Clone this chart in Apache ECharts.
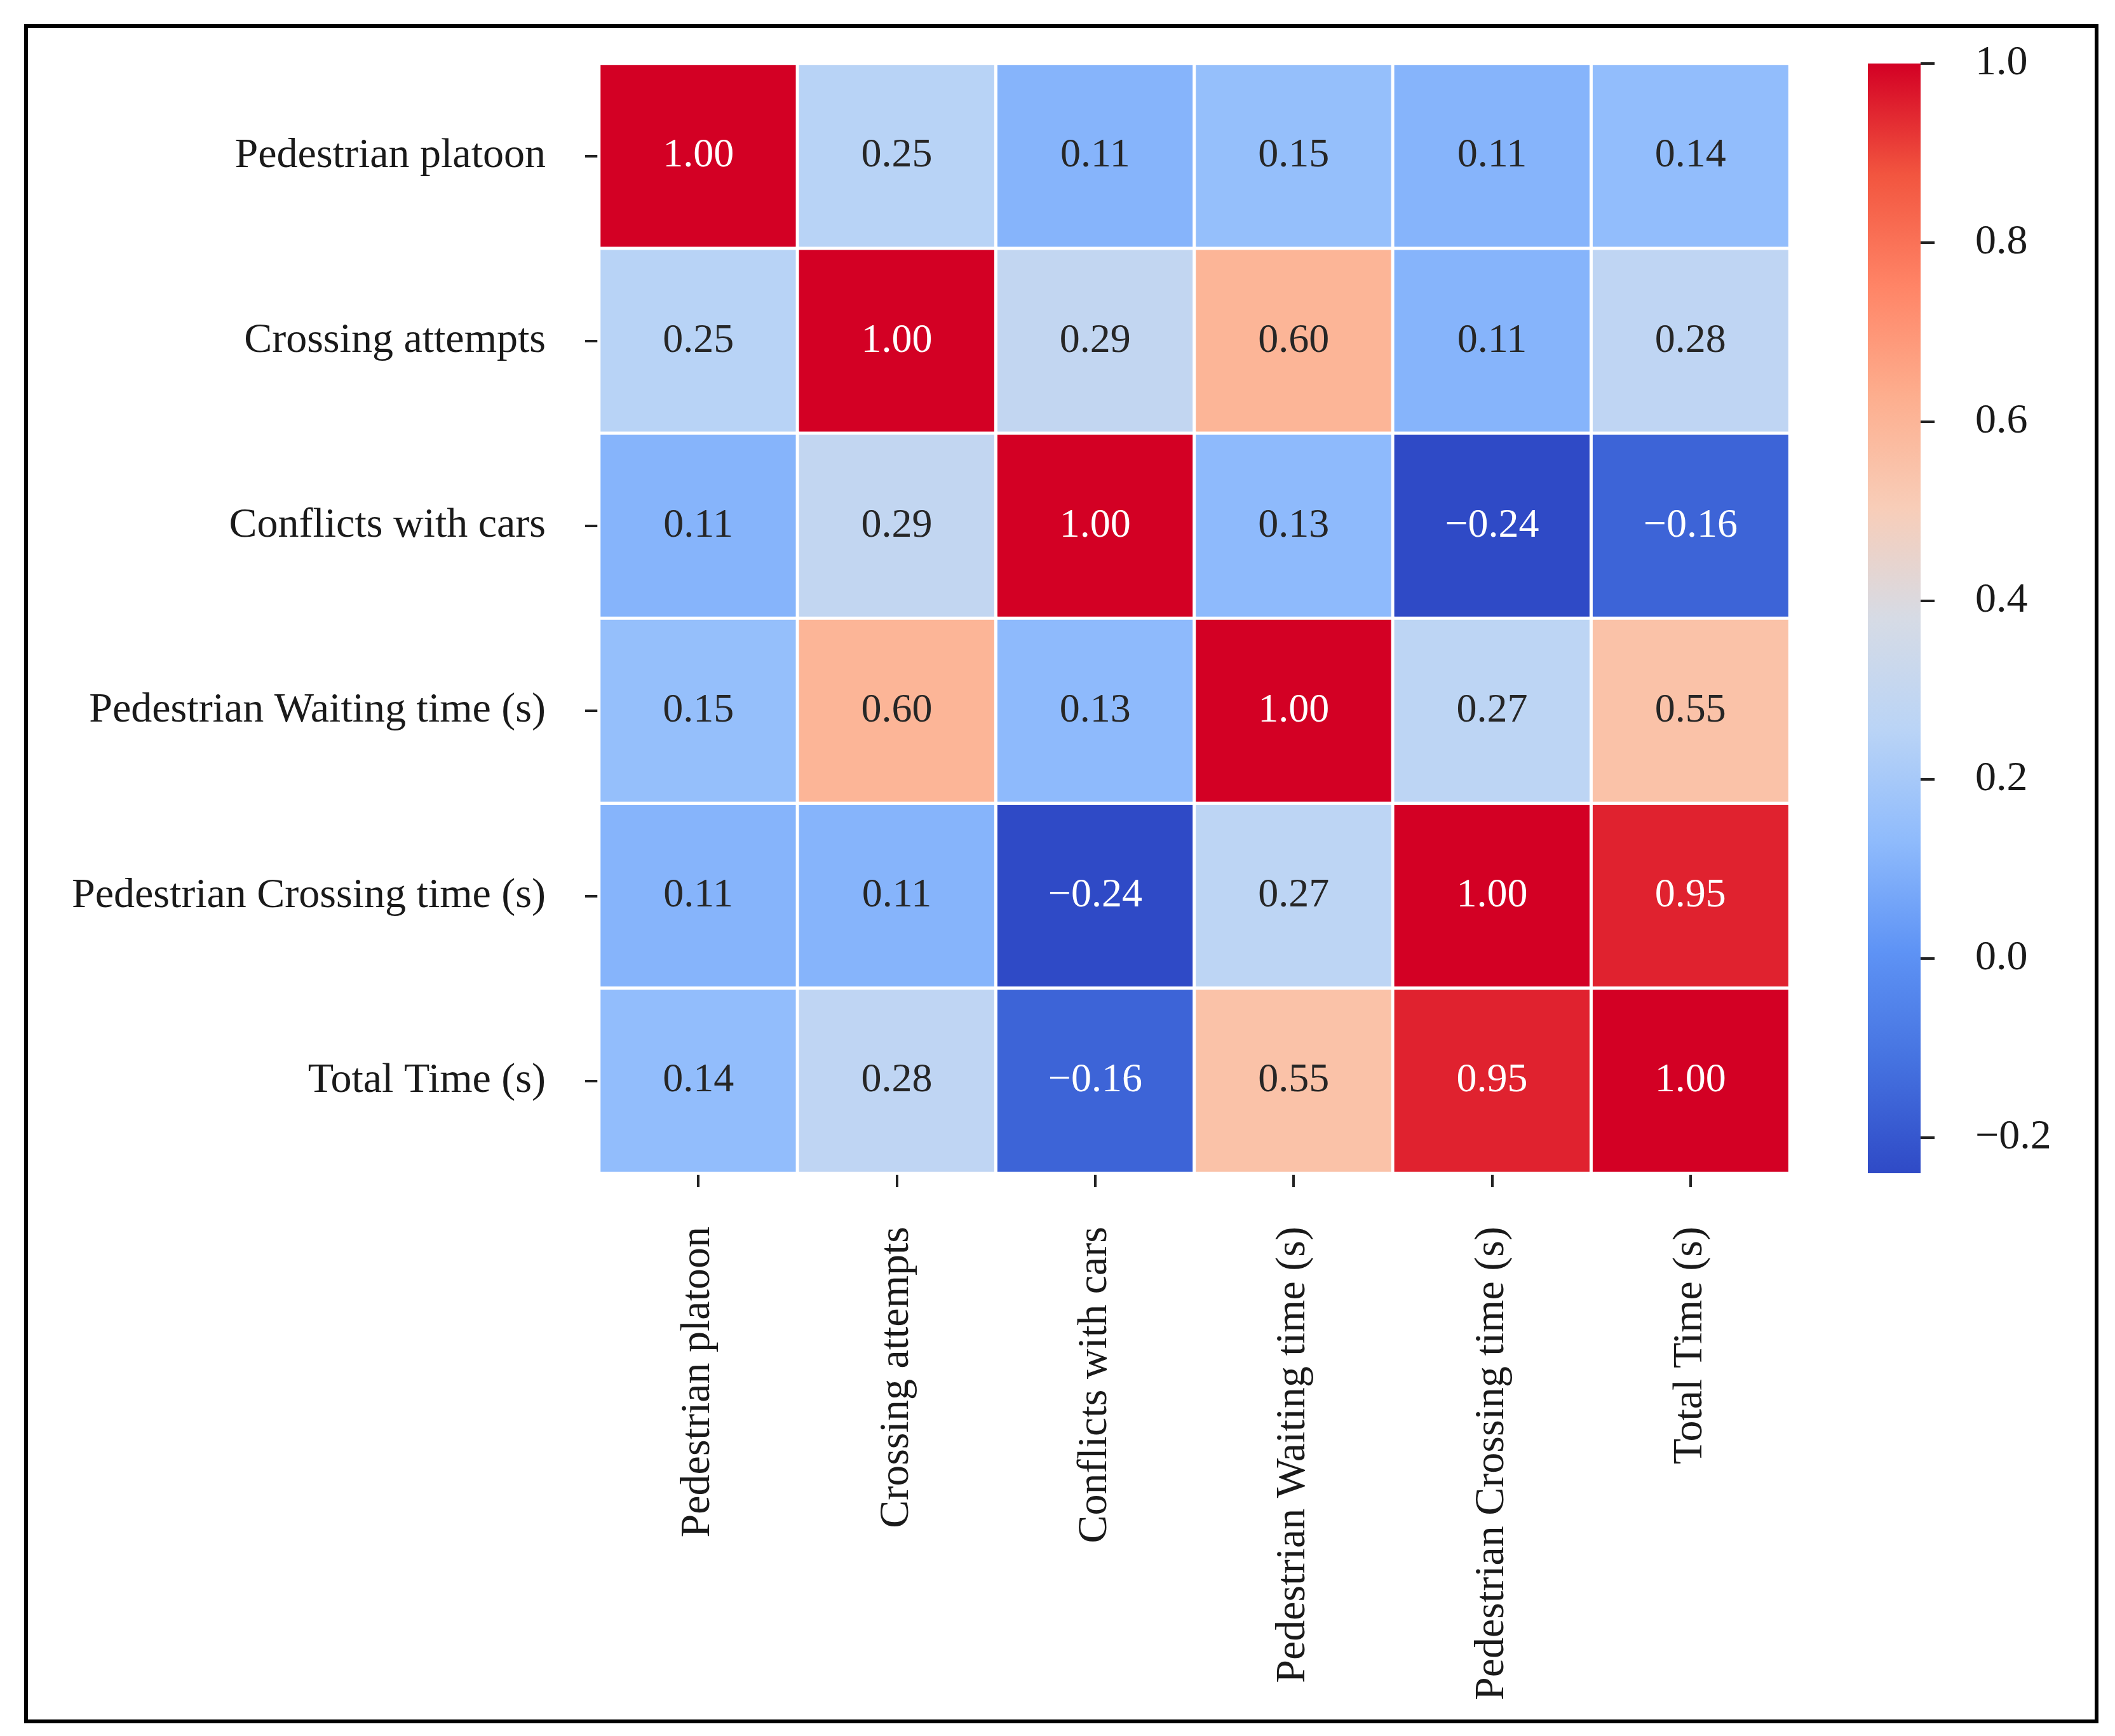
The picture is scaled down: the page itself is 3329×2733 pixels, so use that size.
<!DOCTYPE html>
<html>
<head>
<meta charset="utf-8">
<script src="https://cdn.jsdelivr.net/npm/echarts@6/dist/echarts.min.js"></script>
<style>html,body{margin:0;padding:0;background:#fff;}#c{width:3329px;height:2733px;}</style>
</head>
<body>
<div id="c"></div>
<script>
const categories = ["Pedestrian platoon","Crossing attempts","Conflicts with cars","Pedestrian Waiting time (s)","Pedestrian Crossing time (s)","Total Time (s)"];
const row0 = [1.00, 0.25, 0.11, 0.15, 0.11, 0.14];
const row1 = [0.25, 1.00, 0.29, 0.60, 0.11, 0.28];
const row2 = [0.11, 0.29, 1.00, 0.13, -0.24, -0.16];
const row3 = [0.15, 0.60, 0.13, 1.00, 0.27, 0.55];
const row4 = [0.11, 0.11, -0.24, 0.27, 1.00, 0.95];
const row5 = [0.14, 0.28, -0.16, 0.55, 0.95, 1.00];
const colorbarTicks = [-0.2, 0.0, 0.2, 0.4, 0.6, 0.8, 1.0];
const vmin = -0.24, vmax = 1.0;
const cmap = ['#2f4ac6','#4572e0','#5e93f5','#8fbbfc','#bad4f6','#d6dbe5','#f8cdb8','#fdae8e','#ff8466','#f2553f','#d30024'];

const rows = [row0,row1,row2,row3,row4,row5];
const data = [];
rows.forEach((r, yi) => r.forEach((v, xi) => {
  const dark = v >= 0.9 || v <= -0.1;
  data.push({value: [xi, yi, v], label: {color: dark ? '#ffffff' : '#262626'}});
}));
const fmt = v => (v < 0 ? '\u2212' : '') + Math.abs(v).toFixed(2);
const FONT = '"Liberation Serif","DejaVu Serif",serif';

const cbLeft = 2940, cbWidth = 83, cbTop = 100, cbHeight = 1747;
// colorbar gradient drawn as the colorbar grid's background (top = vmax)
const cbGradient = new echarts.graphic.LinearGradient(0, 0, 0, 1,
  cmap.slice().reverse().map((c, i) => ({offset: i / (cmap.length - 1), color: c})));

const chart = echarts.init(document.getElementById('c'), null, {renderer: 'canvas'});
chart.setOption({
  backgroundColor: '#ffffff',
  animation: false,
  grid: [
    {left: 943, top: 100, width: 1874, height: 1747},
    {left: cbLeft, top: cbTop, width: cbWidth, height: cbHeight, show: true,
     backgroundColor: cbGradient, borderWidth: 0}
  ],
  xAxis: [
    {type: 'category', gridIndex: 0, data: categories, position: 'bottom',
     axisLine: {show: false}, splitLine: {show: false},
     axisTick: {show: true, alignWithLabel: true, length: 22, lineStyle: {color: '#222', width: 4}},
     axisLabel: {rotate: 90, margin: 84, fontFamily: FONT, fontSize: 66, color: '#1a1a1a'}},
    {type: 'category', gridIndex: 1, show: false, data: ['']}
  ],
  yAxis: [
    {type: 'category', gridIndex: 0, data: categories, inverse: true,
     axisLine: {show: false}, splitLine: {show: false},
     axisTick: {show: true, alignWithLabel: true, length: 22, lineStyle: {color: '#222', width: 4}},
     axisLabel: {margin: 84, fontFamily: FONT, fontSize: 66, color: '#1a1a1a'}},
    {type: 'value', gridIndex: 1, position: 'right', min: vmin, max: vmax,
     axisLine: {show: false, onZero: false}, splitLine: {show: false},
     axisTick: {show: true, inside: false, customValues: colorbarTicks, length: 22, lineStyle: {color: '#222', width: 4}},
     axisLabel: {customValues: colorbarTicks, margin: 86, fontFamily: FONT, fontSize: 66, color: '#1a1a1a',
       formatter: v => (v < 0 ? '\u2212' : '') + Math.abs(v).toFixed(1)}}
  ],
  visualMap: {
    type: 'continuous', min: vmin, max: vmax, seriesIndex: 0, show: false,
    inRange: {color: cmap}
  },
  graphic: [
    {type: 'rect', left: 38, top: 38, shape: {x: 0, y: 0, width: 3259, height: 2669},
     style: {fill: 'none', stroke: '#000', lineWidth: 6}, silent: true, z: 100}
  ],
  series: [{
    type: 'heatmap', xAxisIndex: 0, yAxisIndex: 0, data: data,
    itemStyle: {borderColor: '#ffffff', borderWidth: 5},
    label: {show: true, fontFamily: FONT, fontSize: 64,
      formatter: p => fmt(p.value[2]), color: '#262626'}
  }]
});
</script>
</body>
</html>
